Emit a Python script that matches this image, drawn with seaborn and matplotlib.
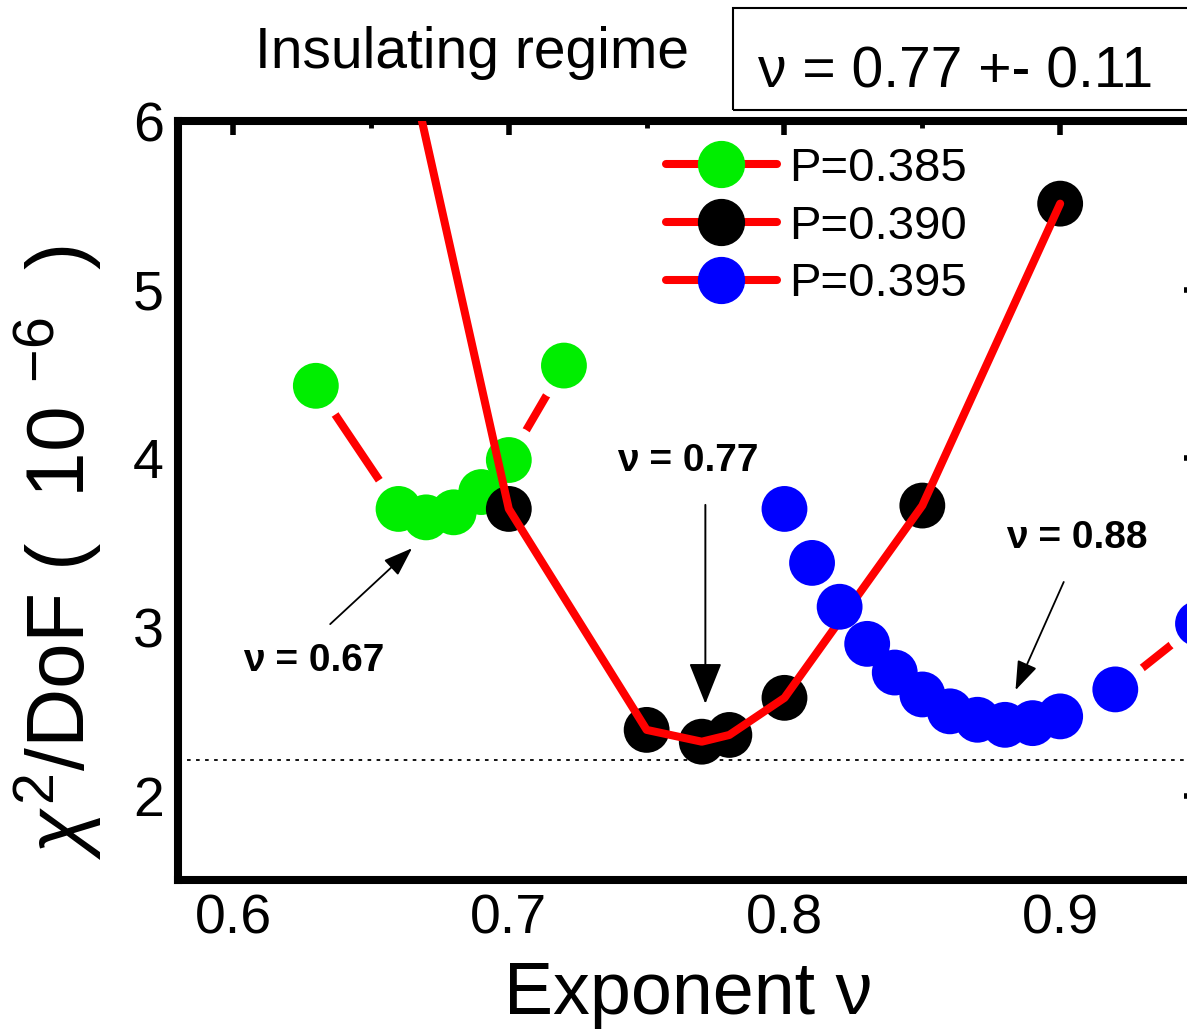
import matplotlib
matplotlib.use("Agg")
import matplotlib.pyplot as plt
from matplotlib.lines import Line2D
from matplotlib.patches import Rectangle
from matplotlib.ticker import MultipleLocator
import seaborn as sns

# ---- data ----
nu_385 = [0.63, 0.66, 0.67, 0.68, 0.69, 0.70, 0.72]
chi_385 = [4.43, 3.70, 3.65, 3.68, 3.80, 3.99, 4.55]

nu_390 = [0.65, 0.70, 0.75, 0.77, 0.78, 0.80, 0.85, 0.90]
chi_390 = [7.35, 3.70, 2.39, 2.32, 2.36, 2.58, 3.72, 5.51]

nu_395 = [0.80, 0.81, 0.82, 0.83, 0.84, 0.85, 0.86, 0.87, 0.88, 0.89, 0.90, 0.92, 0.95]
chi_395 = [3.70, 3.38, 3.12, 2.90, 2.73, 2.60, 2.50, 2.45, 2.42, 2.43, 2.47, 2.63, 3.02]

labels = ["P=0.385", "P=0.390", "P=0.395"]
colors = ["#00ee00", "black", "#0000ff"]
chi_floor = 2.21

x_ticks = [0.6, 0.7, 0.8, 0.9]
y_ticks = [2, 3, 4, 5, 6]

# ---- style ----
sns.set_style("white")
plt.rcParams["font.family"] = ["Liberation Sans", "DejaVu Sans"]
plt.rcParams["mathtext.fontset"] = "custom"
plt.rcParams["mathtext.rm"] = "Liberation Sans"
plt.rcParams["mathtext.it"] = "Liberation Sans:italic"
for k in ["text.color", "axes.labelcolor", "xtick.color", "ytick.color"]:
    plt.rcParams[k] = "black"

W, H = 1187, 1032
fig = plt.figure(figsize=(W / 100, H / 100), dpi=100)
ax = fig.add_axes([178 / W, (H - 880) / H, (1198 - 178) / W, (880 - 121) / H])

red = "#ff0000"
lw_line = 5.8
ms = 33
ms_area = ms ** 2
halo_area = 50 ** 2

# green series: line with gap to symbol
sns.lineplot(x=nu_385, y=chi_385, color=red, lw=lw_line, ax=ax, sort=False, zorder=1)
sns.scatterplot(x=nu_385, y=chi_385, s=halo_area, color="white", edgecolor="none", ax=ax, zorder=1.5)
sns.scatterplot(x=nu_385, y=chi_385, s=ms_area, color=colors[0], edgecolor="none", ax=ax, zorder=2)

# blue series line with gaps
sns.lineplot(x=nu_395, y=chi_395, color=red, lw=lw_line, ax=ax, sort=False, zorder=1)
sns.scatterplot(x=nu_395, y=chi_395, s=halo_area, color="white", edgecolor="none", ax=ax, zorder=1.5)

# reference dotted line
ax.axhline(chi_floor, color="black", lw=1.3, ls=(0, (2, 3)), zorder=1.6)

# black series: markers under line
sns.scatterplot(x=nu_390, y=chi_390, s=ms_area, color=colors[1], edgecolor="none", ax=ax, zorder=3)
sns.lineplot(x=nu_390, y=chi_390, color=red, lw=lw_line, ax=ax, sort=False, zorder=3.5)

# blue markers on top
sns.scatterplot(x=nu_395, y=chi_395, s=ms_area, color=colors[2], edgecolor="none", ax=ax, zorder=4)

ax.set_xlim(0.58, 0.95)
ax.set_ylim(1.5, 6)
ax.set_xticks(x_ticks)
ax.set_xticklabels([f"{v:.1f}" for v in x_ticks])
ax.set_yticks(y_ticks)
ax.xaxis.set_minor_locator(MultipleLocator(0.05))
ax.yaxis.set_minor_locator(MultipleLocator(0.5))
ax.tick_params(which="both", direction="in", top=True, right=True, color="black")
ax.tick_params(which="major", length=10, width=4, labelsize=40, pad=10)
ax.tick_params(which="minor", length=5, width=3.5)
for sp in ax.spines.values():
    sp.set_linewidth(5.8)
    sp.set_color("black")
    sp.set_visible(True)

ax.set_xlabel("Exponent ν", fontsize=53, labelpad=10)
ax.set_ylabel(r"$\chi^2$/DoF (  10 $^{-6}$  )", fontsize=59)
ax.yaxis.set_label_coords(-0.072, 0.432)

# legend
handles = [Line2D([], [], color=red, lw=lw_line, marker="o", markersize=ms,
                  markerfacecolor=c, markeredgecolor=c) for c in colors]
leg = ax.legend(handles, labels, loc="upper left", frameon=False, fontsize=34,
                bbox_to_anchor=(666 / W, (H - 147) / H), bbox_transform=fig.transFigure,
                borderpad=0, handlelength=2.35, handletextpad=0.25, labelspacing=0.29,
                borderaxespad=0)
leg.set_zorder(6)

# annotations
ax.text(0.6294, 2.80, "ν = 0.67", fontsize=28, fontweight="bold", ha="center", va="center", zorder=7)
ax.annotate("", xy=(0.6649, 3.467), xytext=(0.6352, 3.017),
            arrowprops=dict(arrowstyle="-|>,head_length=0.9,head_width=0.32", color="black",
                            lw=1.3, mutation_scale=20, shrinkA=0, shrinkB=0), zorder=7)

ax.text(0.765, 3.985, "ν = 0.77", fontsize=28, fontweight="bold", ha="center", va="center", zorder=7)
ax.annotate("", xy=(0.7713, 2.545), xytext=(0.7713, 3.724),
            arrowprops=dict(arrowstyle="-|>,head_length=1.0,head_width=0.4", color="black",
                            lw=1.4, mutation_scale=26, shrinkA=0, shrinkB=0), zorder=7)

ax.text(0.906, 3.53, "ν = 0.88", fontsize=28, fontweight="bold", ha="center", va="center", zorder=7)
ax.annotate("", xy=(0.8838, 2.625), xytext=(0.9013, 3.267),
            arrowprops=dict(arrowstyle="-|>,head_length=0.9,head_width=0.32", color="black",
                            lw=1.3, mutation_scale=20, shrinkA=0, shrinkB=0), zorder=7)

# title and box
fig.text(255 / W, (H - 68) / H, "Insulating regime", fontsize=41, ha="left", va="baseline")
fig.add_artist(Rectangle((733 / W, (H - 110) / H), 0.5, 102 / H, transform=fig.transFigure,
                         fill=False, edgecolor="black", lw=1.5))
fig.text(758 / W, (H - 88) / H, "ν = 0.77 +- 0.11", fontsize=41, ha="left", va="baseline")

fig.savefig("out.png", dpi=100)
